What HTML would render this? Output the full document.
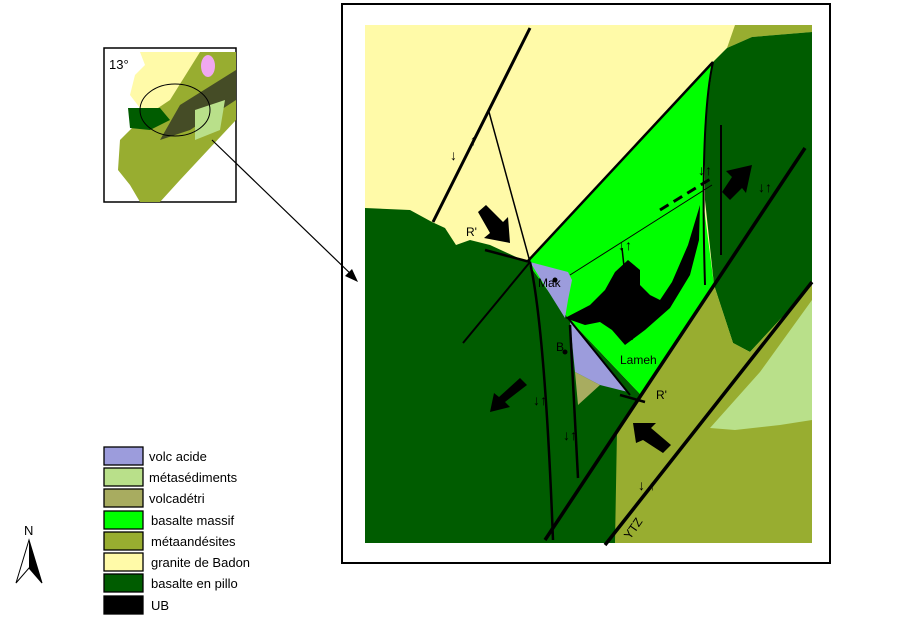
<!DOCTYPE html>
<html><head><meta charset="utf-8"><style>
body{margin:0;background:#fff;}
svg{display:block;font-family:"Liberation Sans",sans-serif;}
</style></head><body>
<svg width="902" height="630" viewBox="0 0 902 630" xmlns="http://www.w3.org/2000/svg">
<rect width="902" height="630" fill="#fff"/>
<rect x="104" y="48" width="132" height="154" fill="#fff" stroke="#000" stroke-width="1.5"/>
<polygon points="140,52 215,52 190,80 165,110 140,108 130,95 135,75 145,65" fill="#fffaa8"/>
<polygon points="200,52 236,52 236,120 180,180 160,202 140,202 130,185 118,170 120,140 140,120 170,100" fill="#98ad30"/>
<polygon points="128,108 160,108 170,120 150,130 130,128" fill="#005c00"/>
<polygon points="180,105 236,70 236,100 190,130 160,140" fill="#222" opacity="0.7"/>
<polygon points="195,110 225,100 220,130 195,140" fill="#b9e08a"/>
<ellipse cx="208" cy="66" rx="7" ry="11" fill="#f0a8f0"/>
<ellipse cx="175" cy="110" rx="35" ry="26" fill="none" stroke="#000"/>
<text x="109" y="69" font-size="13">13°</text>
<rect x="342" y="4" width="488" height="559" fill="#fff" stroke="#000" stroke-width="2"/>
<line x1="212" y1="140" x2="356" y2="279" stroke="#000" stroke-width="1.2"/>
<polygon points="358,282 345,276 352,269" fill="#000"/>
<g>
<rect x="365" y="25" width="447" height="518" fill="#fffaa8"/>
<polygon points="735,25 812,25 812,32 752,37 727,48" fill="#98ad30"/>
<polygon points="365,208 410,210 432,222 445,228 456,245 470,240 490,245 527,262 568,318 641,395 625,420 615,543 365,543" fill="#005c00"/>
<polygon points="527,262 713,62 705,120 703,200 714,285 641,395 568,318" fill="#00ff00"/>
<polygon points="713,62 727,48 752,37 812,32 812,285 750,352 733,343 714,285 705,200 705,120" fill="#005c00"/>
<polygon points="714,285 733,343 750,352 812,285 812,543 615,543 617,430 625,420 641,395" fill="#98ad30"/>
<polygon points="812,300 812,420 780,425 735,430 710,428 760,372" fill="#b9e08a"/>
<polygon points="530,262 568,272 572,280 568,300 565,318" fill="#9c9cdc"/>
<polygon points="570,322 628,392 600,385 575,372" fill="#9c9cdc"/>
<polygon points="575,372 600,385 578,405" fill="#a8ac60"/>
<path d="M565,318 L590,305 L605,290 L615,272 L628,260 L640,270 L640,285 L650,295 L660,300 L672,282 L688,245 L700,205 L699,240 L690,275 L670,308 L645,330 L625,345 L612,330 L600,322 L585,325 Z" fill="#000"/>
<g stroke="#000" fill="none">
<line x1="433" y1="222" x2="530" y2="28" stroke-width="3"/>
<line x1="489" y1="112" x2="530" y2="262" stroke-width="1.5"/>
<line x1="485" y1="250" x2="530" y2="262" stroke-width="2.5"/>
<line x1="530" y1="262" x2="463" y2="343" stroke-width="2"/>
<path d="M530,262 Q545,330 553,540" stroke-width="2.5"/>
<line x1="570" y1="325" x2="578" y2="478" stroke-width="2.5"/>
<line x1="545" y1="540" x2="805" y2="148" stroke-width="3.5"/>
<line x1="605" y1="545" x2="812" y2="282" stroke-width="3.5"/>
<line x1="527" y1="262" x2="713" y2="62" stroke-width="2.5"/>
<path d="M713,62 Q700,120 705,285" stroke-width="2"/>
<line x1="721" y1="125" x2="721" y2="255" stroke-width="2"/>
<line x1="568" y1="318" x2="630" y2="395" stroke-width="2"/>
<line x1="570" y1="275" x2="712" y2="185" stroke-width="1" />
<line x1="660" y1="210" x2="712" y2="178" stroke-width="3" stroke-dasharray="10,6"/>
<line x1="620" y1="395" x2="645" y2="402" stroke-width="2.5"/>
<line x1="622" y1="248" x2="632" y2="340" stroke-width="1.5"/>
</g>
<g fill="#000">
<polygon points="478,212 486,205 503,222 508,217 510,243 484,238 490,233"/>
<polygon points="520,378 527,385 505,402 510,407 490,412 494,393 499,397"/>
<polygon points="722,192 730,200 742,188 746,193 752,165 726,171 732,177"/>
<polygon points="663,453 671,445 651,428 656,423 633,423 636,443 643,440"/>
</g>
<g font-size="14" font-weight="bold" fill="#000">
<text x="450" y="160">↓</text><text x="470" y="145">↑</text>
<text x="533" y="405">↓↑</text><text x="563" y="440">↓↑</text>
<text x="618" y="250">↓↑</text><text x="698" y="175">↓↑</text>
<text x="758" y="192">↓↑</text><text x="638" y="490">↓ ↑</text>
</g>
<g font-size="12" fill="#000">
<text x="466" y="236">R'</text>
<text x="656" y="399">R'</text>
<text x="538" y="287">Mak</text>
<circle cx="555" cy="280" r="2.5"/>
<text x="556" y="351">B</text>
<circle cx="565" cy="352" r="2.5"/>
<text x="620" y="364">Lameh</text>
<text x="630" y="540" transform="rotate(-55 630 540)">YTZ</text>
</g>
</g>
<g stroke="#000" stroke-width="1.3">
<rect x="104" y="447" width="39" height="18" fill="#9c9cdc"/>
<rect x="104" y="468" width="39" height="18" fill="#b9e08a"/>
<rect x="104" y="489" width="39" height="18" fill="#a8ac60"/>
<rect x="104" y="511" width="39" height="18" fill="#00ff00"/>
<rect x="104" y="532" width="39" height="18" fill="#98ad30"/>
<rect x="104" y="553" width="39" height="18" fill="#fffaa8"/>
<rect x="104" y="574" width="39" height="18" fill="#005c00"/>
<rect x="104" y="596" width="39" height="18" fill="#000"/>
</g>
<g font-size="13" fill="#000">
<text x="149" y="461">volc acide</text>
<text x="149" y="482">métasédiments</text>
<text x="149" y="503">volcadétri</text>
<text x="151" y="525">basalte massif</text>
<text x="151" y="546">métaandésites</text>
<text x="151" y="567">granite de Badon</text>
<text x="151" y="588">basalte en pillo</text>
<text x="151" y="610">UB</text>
</g>
<text x="24" y="535" font-size="13">N</text>
<polygon points="29,540 16,583 29,568 42,583" fill="#fff" stroke="#000"/>
<polygon points="29,540 29,568 42,583" fill="#000"/>
</svg>
</body></html>
